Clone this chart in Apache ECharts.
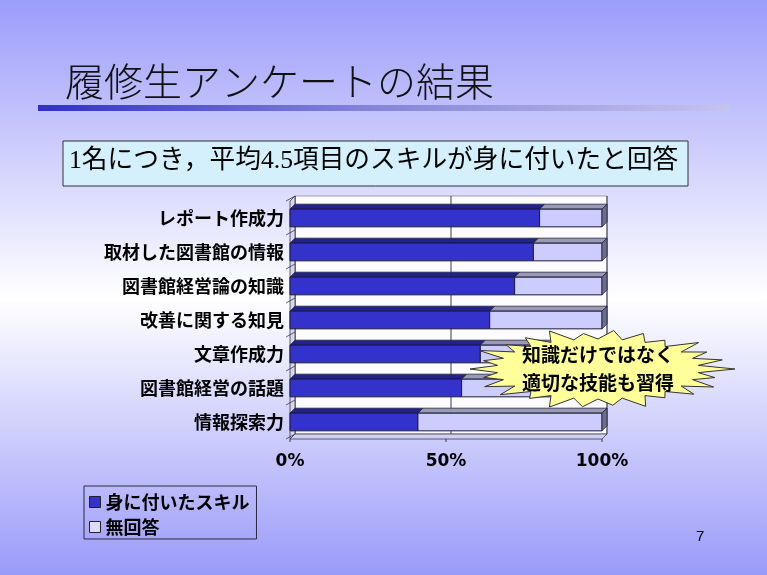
<!DOCTYPE html>
<html>
<head>
<meta charset="utf-8">
<script src="https://cdn.jsdelivr.net/npm/echarts@6/dist/echarts.min.js"></script>
<style>
  html, body { margin: 0; padding: 0; }
  #chart { width: 767px; height: 575px; }
</style>
</head>
<body>
<div id="chart"></div>
<script>
// 履修生アンケートの結果
var categories = ['レポート作成力', '取材した図書館の情報', '図書館経営論の知識', '改善に関する知見', '文章作成力', '図書館経営の話題', '情報探索力'];
var acquired = [80, 78, 72, 64, 61, 55, 41];   // 身に付いたスキル
var noAnswer = [20, 22, 28, 36, 39, 45, 59];   // 無回答
var xTicks = [0, 50, 100];
var seriesNames = ['身に付いたスキル', '無回答'];

var DX = 5, DY = 5; // depth of the 3D look
var FONT_JP = "'Noto Sans CJK JP', sans-serif";

var chart = echarts.init(document.getElementById('chart'), null, {renderer: 'canvas'});

// draws one 3D bar segment
function renderBar(front, top, side) {
  return function(params, api) {
    var cat = api.value(0), s = api.value(1), e = api.value(2);
    var p0 = api.coord([s, cat]);
    var p1 = api.coord([e, cat]);
    var h = api.size([0, 1])[1] * 0.52;
    var y0 = p0[1] - h / 2;
    var kids = [
      {type: 'polygon', shape: {points: [[p0[0], y0], [p1[0], y0], [p1[0] + DX, y0 - DY], [p0[0] + DX, y0 - DY]]},
        style: {fill: top, stroke: '#22223a', lineWidth: 0.8}},
      {type: 'rect', shape: {x: p0[0], y: y0, width: p1[0] - p0[0], height: h},
        style: {fill: front, stroke: '#1a1a33', lineWidth: 1}}
    ];
    if (e >= xTicks[xTicks.length - 1]) {
      kids.push({type: 'polygon', shape: {points: [[p1[0], y0], [p1[0] + DX, y0 - DY], [p1[0] + DX, y0 + h - DY], [p1[0], y0 + h]]},
        style: {fill: side, stroke: '#22223a', lineWidth: 0.8}});
    }
    return {type: 'group', children: kids};
  };
}

// walls, floor and grid lines
function renderFrame(params, api) {
  var cs = params.coordSys;
  var gx = cs.x, gy = cs.y, gw = cs.width, gh = cs.height;
  var kids = [];
  kids.push({type: 'rect', shape: {x: gx + DX, y: gy - DY, width: gw, height: gh},
    style: {fill: '#fcfcff', stroke: '#8a8aa0', lineWidth: 0.8}});
  xTicks.forEach(function(t) {
    var px = api.coord([t, 0])[0];
    kids.push({type: 'line', shape: {x1: px + DX, y1: gy - DY, x2: px + DX, y2: gy + gh - DY},
      style: {stroke: '#3a3a4a', lineWidth: 1}});
    kids.push({type: 'line', shape: {x1: px, y1: gy + gh, x2: px, y2: gy + gh + 3},
      style: {stroke: '#3a3a4a', lineWidth: 1}});
  });
  // left wall
  kids.push({type: 'polygon', shape: {points: [[gx, gy], [gx + DX, gy - DY], [gx + DX, gy + gh - DY], [gx, gy + gh]]},
    style: {fill: '#d6d6f2', stroke: '#3a3a4a', lineWidth: 0.8}});
  for (var i = 0; i <= categories.length; i++) {
    var yb = gy + gh * i / categories.length;
    kids.push({type: 'line', shape: {x1: gx - 4, y1: yb, x2: gx + DX, y2: yb - DY},
      style: {stroke: '#3a3a4a', lineWidth: 0.8}});
  }
  // floor
  kids.push({type: 'polygon', shape: {points: [[gx, gy + gh], [gx + gw, gy + gh], [gx + gw + DX, gy + gh - DY], [gx + DX, gy + gh - DY]]},
    style: {fill: '#d0d0f4', stroke: '#3a3a4a', lineWidth: 0.8}});
  return {type: 'group', children: kids};
}

// jagged callout outline
function starPoints(cx, cy, rx, ry, n) {
  var pts = [];
  var jitter = [1.0, 0.92, 1.05, 0.96, 1.0, 1.07, 0.94, 1.02];
  for (var i = 0; i < n * 2; i++) {
    var a = Math.PI * 2 * i / (n * 2) + Math.PI;
    var r = (i % 2 === 0) ? jitter[(i / 2) % jitter.length] : 0.79;
    pts.push([cx + Math.cos(a) * rx * r, cy + Math.sin(a) * ry * r]);
  }
  return pts;
}

var option = {
  animation: false,
  grid: {left: 290, right: 165, top: 201, bottom: 136},
  xAxis: {
    type: 'value', min: xTicks[0], max: xTicks[xTicks.length - 1], interval: xTicks[1] - xTicks[0],
    axisLine: {show: false}, axisTick: {show: false}, splitLine: {show: false},
    axisLabel: {margin: 14, formatter: function(v) { return v + '%'; },
      fontFamily: "'DejaVu Sans', sans-serif", fontWeight: 'bold', fontSize: 17, color: '#000'}
  },
  yAxis: {
    type: 'category', data: categories, inverse: true,
    axisLine: {show: false}, axisTick: {show: false}, splitLine: {show: false},
    axisLabel: {margin: 6, fontFamily: FONT_JP, fontWeight: 'bold', fontSize: 18, color: '#000'}
  },
  legend: {
    data: seriesNames, orient: 'vertical', left: 84, top: 486,
    borderColor: '#2a2a40', borderWidth: 1, padding: [7, 7, 3, 5], itemGap: 7,
    icon: 'rect', itemWidth: 11, itemHeight: 11,
    itemStyle: {borderColor: '#222', borderWidth: 1},
    textStyle: {fontFamily: FONT_JP, fontWeight: 'bold', fontSize: 18, color: '#000'}
  },
  graphic: [
    {type: 'rect', z: -100, silent: true, shape: {x: 0, y: 0, width: 767, height: 575},
      style: {fill: new echarts.graphic.LinearGradient(0, 0, 0, 1, [
        {offset: 0, color: '#9c9cfb'}, {offset: 0.52, color: '#ffffff'}, {offset: 1, color: '#9a9afa'}])}},
    {type: 'text', left: 65, top: 62, style: {text: '履修生アンケートの結果', fill: '#111',
      font: "300 39px 'Noto Sans CJK JP', sans-serif"}},
    {type: 'rect', shape: {x: 38, y: 105, width: 692, height: 6},
      style: {fill: new echarts.graphic.LinearGradient(0, 0, 1, 0, [
        {offset: 0, color: '#3030c8'}, {offset: 0.45, color: '#8080d8'}, {offset: 1, color: '#c4c4ec'}])}},
    {type: 'rect', shape: {x: 63, y: 141, width: 625, height: 45},
      style: {fill: '#d4f0fc', stroke: '#333', lineWidth: 1}},
    {type: 'text', left: 69, top: 148, style: {text: '1名につき，平均4.5項目のスキルが身に付いたと回答', fill: '#000',
      font: "25.7px 'Liberation Serif', 'Noto Sans CJK JP', serif"}},
    {type: 'polygon', z: 50, shape: {points: starPoints(598, 369, 128, 38, 26)},
      style: {fill: '#ffff99', stroke: '#333', lineWidth: 1}},
    {type: 'text', z: 51, x: 598, y: 369, style: {text: '知識だけではなく\n適切な技能も習得', fill: '#000',
      font: "bold 19px 'Noto Sans CJK JP', sans-serif", align: 'center', verticalAlign: 'middle', lineHeight: 28}},
    {type: 'text', left: 696, top: 529, style: {text: '7', fill: '#000', font: "15px 'Liberation Sans', sans-serif"}}
  ],
  series: [
    {type: 'custom', name: 'frame', silent: true, z: 1, renderItem: renderFrame,
      data: [[0, 0]], encode: {x: 0, y: 1}},
    {type: 'custom', name: seriesNames[0], z: 2, renderItem: renderBar('#3333cc', '#22228c', '#1a1a66'),
      itemStyle: {color: '#3333cc', borderColor: '#222', borderWidth: 1},
      encode: {x: [1, 2], y: 0},
      data: categories.map(function(c, i) { return [i, 0, acquired[i]]; })},
    {type: 'custom', name: seriesNames[1], z: 2, renderItem: renderBar('#ccccff', '#9a9ab8', '#6e6e8c'),
      itemStyle: {color: '#dcdcf8', borderColor: '#222', borderWidth: 1},
      encode: {x: [1, 2], y: 0},
      data: categories.map(function(c, i) { return [i, acquired[i], acquired[i] + noAnswer[i]]; })}
  ]
};

chart.setOption(option);
</script>
</body>
</html>
